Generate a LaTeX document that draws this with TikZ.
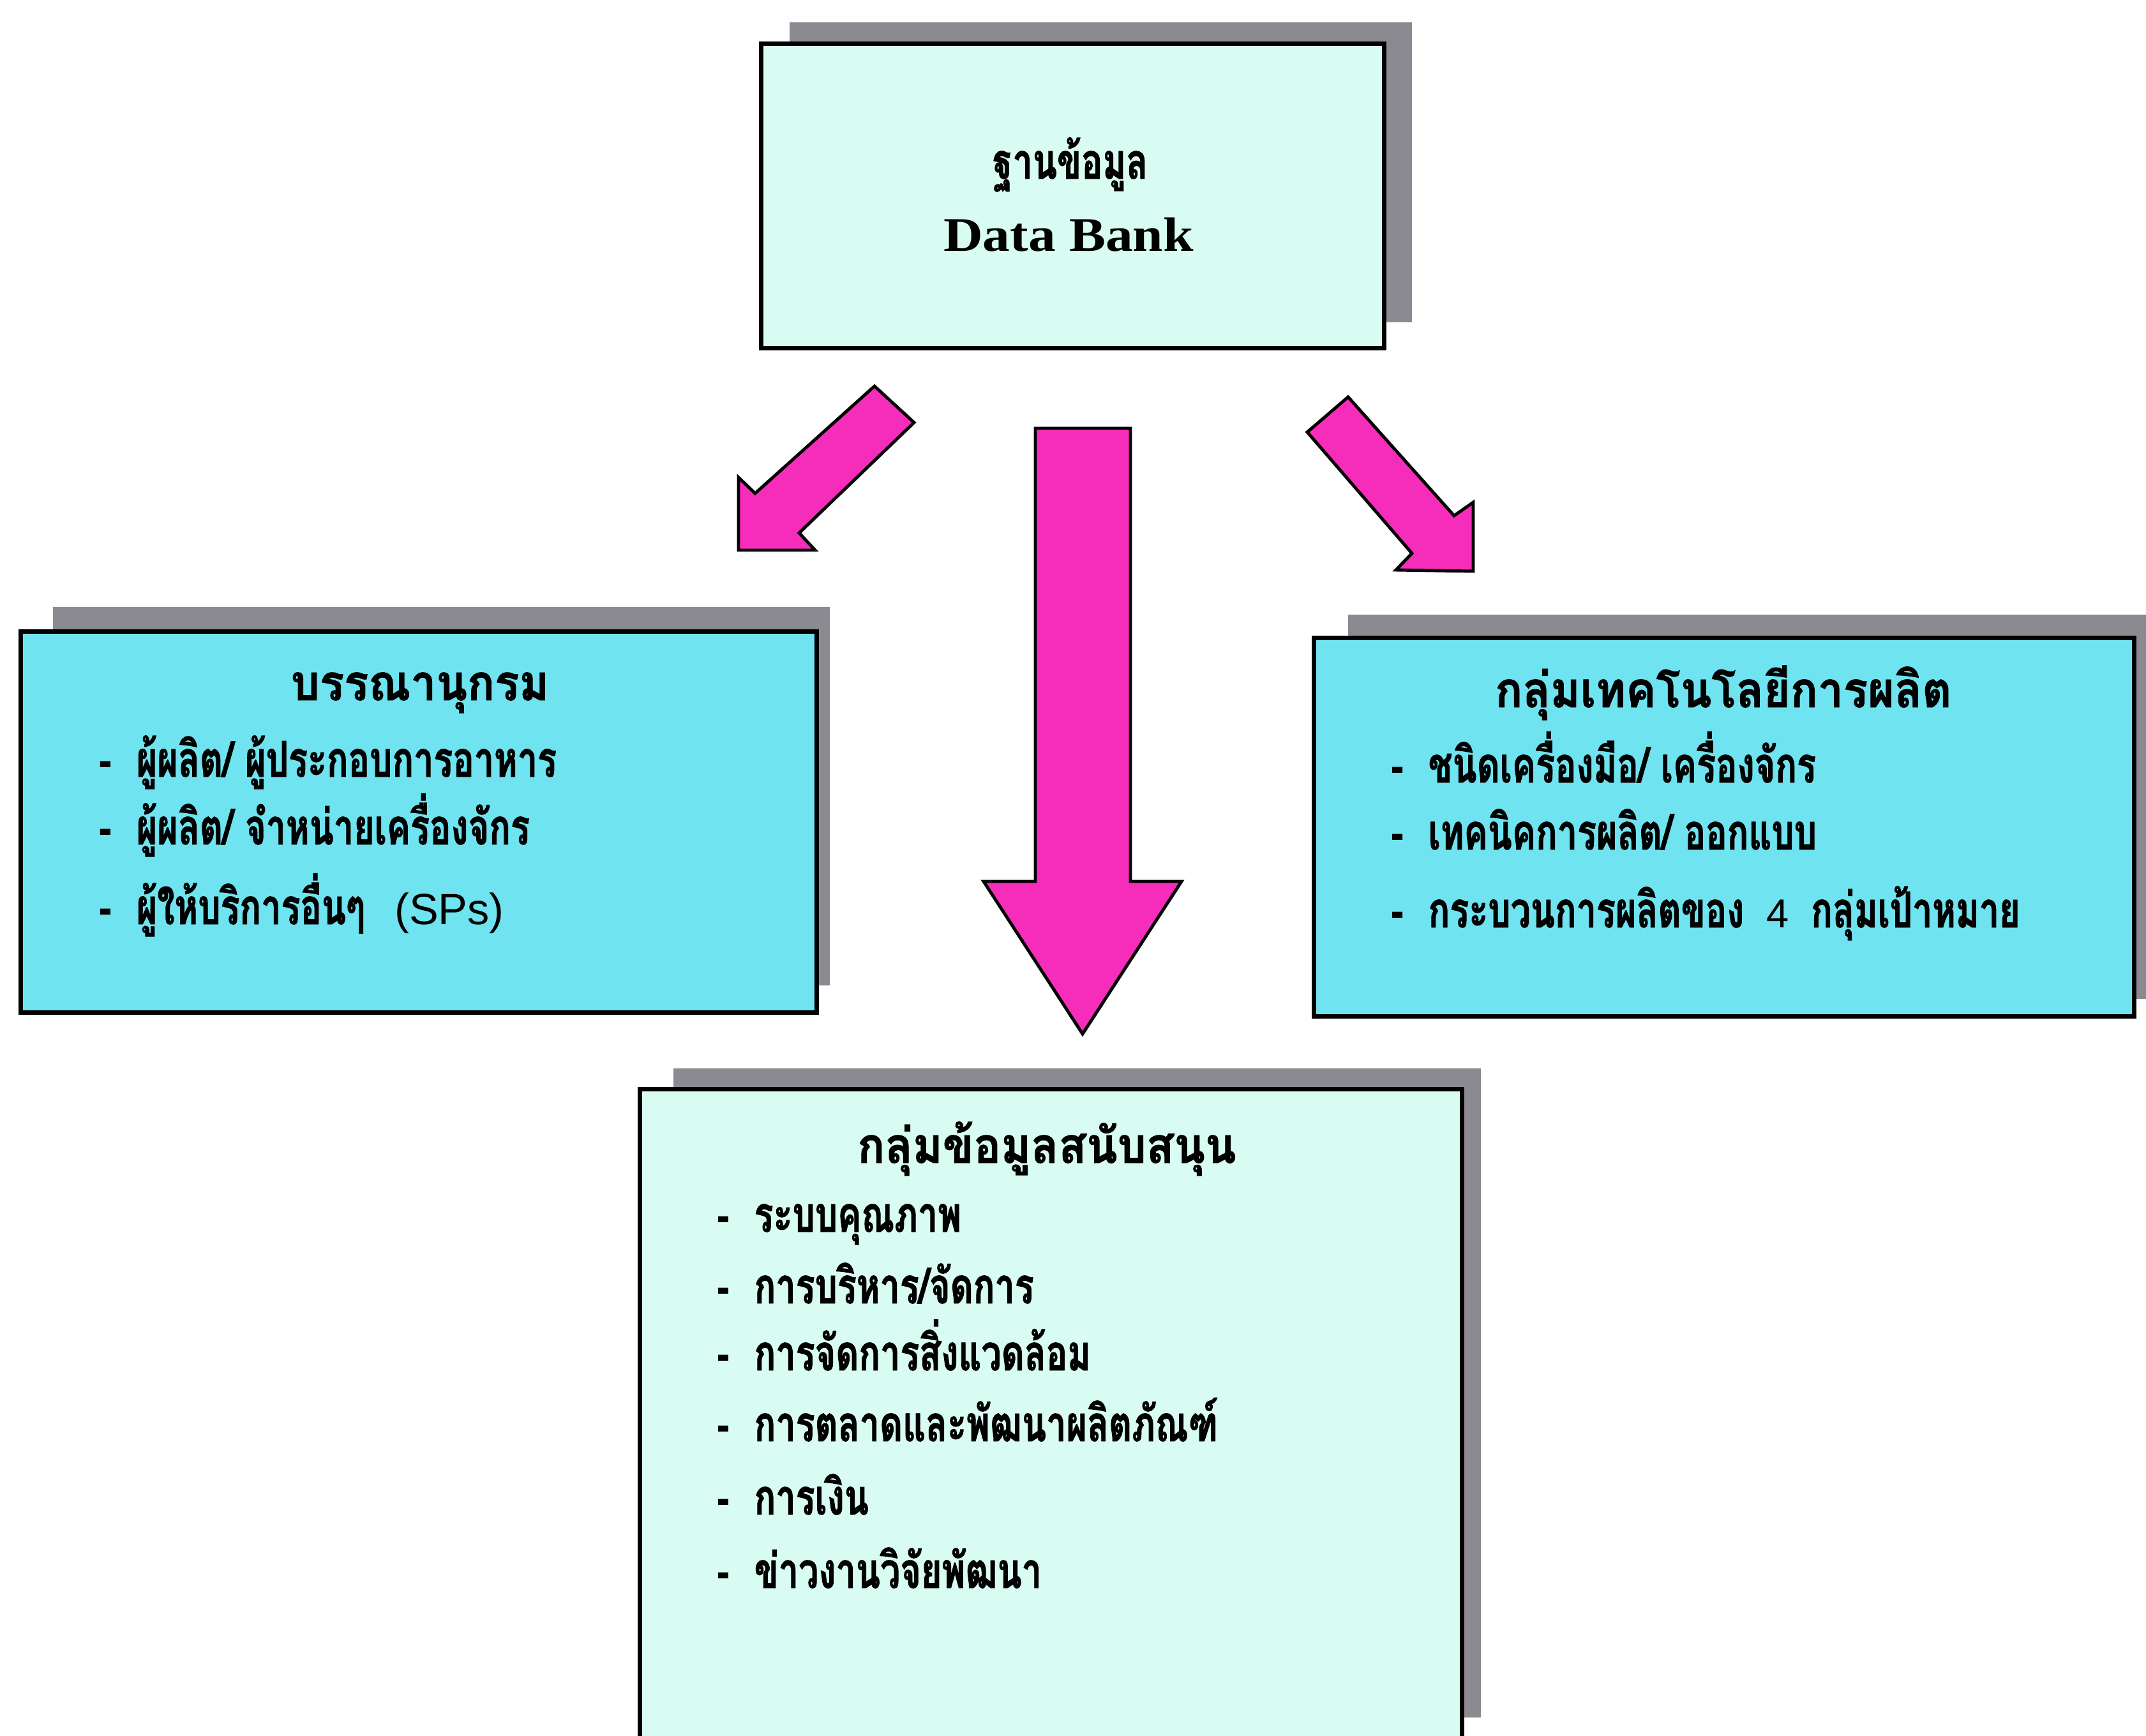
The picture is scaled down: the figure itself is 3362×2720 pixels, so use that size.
\documentclass[tikz,border=0pt]{standalone}
\usepackage{fontspec}
\newfontfamily\thaiitem[Script=Thai,FakeStretch=0.72,BoldFeatures={FakeBold=1.2}]{Loma}
\newfontfamily\thaititle[Script=Thai,FakeStretch=0.92,BoldFeatures={FakeBold=1.2}]{Loma}
\newfontfamily\latinsans{Liberation Sans}
\newfontfamily\bankserif[FakeStretch=1.13]{Liberation Serif}
\definecolor{mintfill}{HTML}{D9FCF2}
\definecolor{cyanfill}{HTML}{6FE3EF}
\definecolor{arrowpink}{HTML}{F62DBA}
\definecolor{shadowgray}{HTML}{8C8A91}
\newlength{\dashw}
\setlength{\dashw}{0.58cm}
\newcommand{\itm}[1]{\makebox[\dashw][l]{-}#1}
\begin{document}
\begin{tikzpicture}[x=0.01cm,y=-0.01cm,
  shadowbox/.style={fill=shadowgray,draw=none,inner sep=0pt},
  frontbox/.style={draw=black,line width=2pt,inner sep=0pt},
  blockarrow/.style={fill=arrowpink,draw=black,line width=1.4pt,line join=miter},
  titletext/.style={font=\thaititle\bfseries\fontsize{22}{26}\selectfont,inner sep=0pt,anchor=base},
  itemtext/.style={font=\thaiitem\bfseries\fontsize{22}{26}\selectfont,inner sep=0pt,anchor=base west},
  bankthai/.style={font=\thaiitem\bfseries\fontsize{22}{26}\selectfont,inner sep=0pt,anchor=base},
  bigword/.style={font=\bankserif\bfseries\fontsize{21.5}{25}\selectfont,inner sep=0pt,anchor=base},
  latinpart/.style={}]
\useasboundingbox (0,0) rectangle (3362,2720);
\clip (0,0) rectangle (3362,2720);
\fill[white] (0,0) rectangle (3362,2720);

% shadows behind the boxes
\node[shadowbox,minimum width=9.75cm,minimum height=4.70cm] (bank-sh) at (1724.5,270) {};
\node[shadowbox,minimum width=12.17cm,minimum height=5.93cm] (biblio-sh) at (691.5,1247.5) {};
\node[shadowbox,minimum width=12.88cm,minimum height=6.02cm] (tech-sh) at (2756,1264) {};
\node[shadowbox,minimum width=12.65cm,minimum height=10.17cm] (support-sh) at (1687.5,2182.5) {};

% boxes
\node[frontbox,fill=mintfill,minimum width=9.75cm,minimum height=4.76cm] (bank) at (1680.5,307) {};
\node[frontbox,fill=cyanfill,minimum width=12.46cm,minimum height=5.96cm] (biblio) at (656,1288) {};
\node[frontbox,fill=cyanfill,minimum width=12.84cm,minimum height=5.92cm] (tech) at (2701,1296) {};
\node[frontbox,fill=mintfill,minimum width=12.87cm,minimum height=10.73cm] (support) at (1646.5,2243.5) {};

% block arrows
\draw[blockarrow] (1370,605) -- (1432,662) -- (1252,835) -- (1277,862) -- (1157,862)
  -- (1157,748) -- (1183,773) -- cycle;
\draw[blockarrow] (1622,671) -- (1771,671) -- (1771,1381) -- (1851,1381) -- (1696,1620)
  -- (1541,1381) -- (1622,1381) -- cycle;
\draw[blockarrow] (2112,622) -- (2278,808) -- (2308,787) -- (2308,895) -- (2187,893)
  -- (2212,867) -- (2048,677) -- cycle;

% data bank
\node[bankthai] (bank-th) at (1677,280) {ฐานข้อมูล};
\node[bigword] (bank-en) at (1674,393) {Data Bank};

% bibliography
\node[titletext] (biblio-t) at (658,1097) {บรรณานุกรม};
\node[itemtext] (biblio-1) at (155,1217) {\itm{ผู้ผลิต/ ผู้ประกอบการอาหาร}};
\node[itemtext] (biblio-2) at (155,1323) {\itm{ผู้ผลิต/ จำหน่ายเครื่องจักร}};
\node[itemtext] (biblio-3) at (155,1448) {\itm{ผู้ให้บริการอื่นๆ\hspace{0.6em}{\latinsans\mdseries\fontsize{19.5}{22}\selectfont (SPs)}}};

% production technology
\node[titletext] (tech-t) at (2700,1108) {กลุ่มเทคโนโลยีการผลิต};
\node[itemtext] (tech-1) at (2179,1226) {\itm{ชนิดเครื่องมือ/ เครื่องจักร}};
\node[itemtext] (tech-2) at (2179,1331) {\itm{เทคนิคการผลิต/ ออกแบบ}};
\node[itemtext] (tech-3) at (2179,1453) {\itm{กระบวนการผลิตของ\hspace{0.45em}{\latinsans\mdseries\fontsize{18}{20}\selectfont 4}\hspace{0.45em}กลุ่มเป้าหมาย}};

% supporting data
\node[titletext] (support-t) at (1640,1822) {กลุ่มข้อมูลสนับสนุน};
\node[itemtext] (support-1) at (1123,1930) {\itm{ระบบคุณภาพ}};
\node[itemtext] (support-2) at (1123,2042) {\itm{การบริหาร/จัดการ}};
\node[itemtext] (support-3) at (1123,2147) {\itm{การจัดการสิ่งแวดล้อม}};
\node[itemtext] (support-4) at (1123,2258) {\itm{การตลาดและพัฒนาผลิตภัณฑ์}};
\node[itemtext] (support-5) at (1123,2373) {\itm{การเงิน}};
\node[itemtext] (support-6) at (1123,2488) {\itm{ข่าวงานวิจัยพัฒนา}};
\end{tikzpicture}
\end{document}
